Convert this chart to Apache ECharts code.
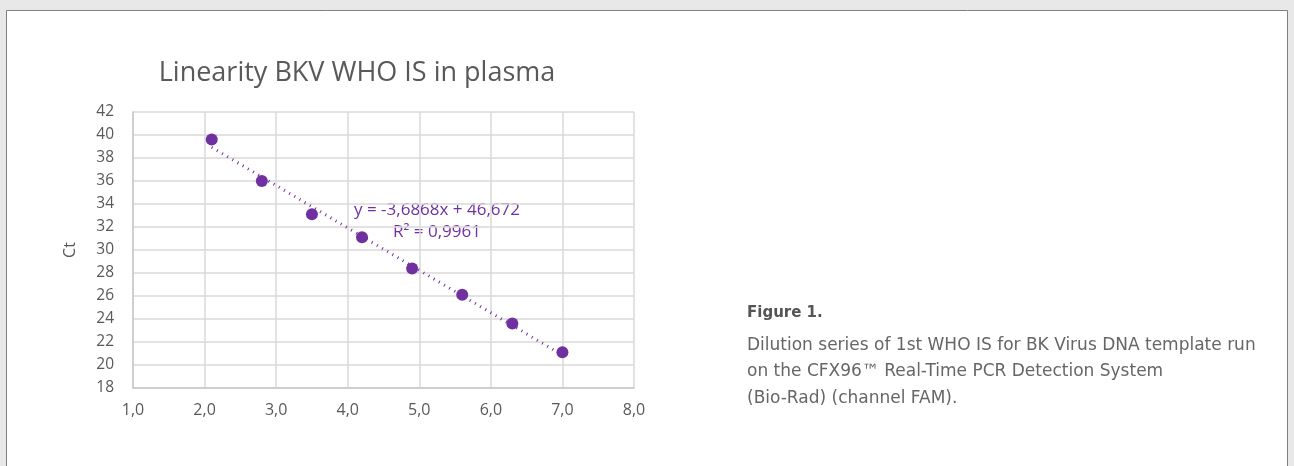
<!DOCTYPE html>
<html lang="en">

<head>
  <meta charset="UTF-8">
  <title>Linearity BKV WHO IS in plasma</title>
  <script src="https://cdn.jsdelivr.net/npm/echarts@6.0.0/dist/echarts.min.js"></script>
  <style>
    html, body { margin: 0; padding: 0; background: #e8e8e8; }
    #main { width: 1294px; height: 466px; }
  </style>
</head>

<body>
  <div id="main"></div>
  <script type="text/javascript">
    // log concentration vs Ct
    var logConc = [2.1, 2.8, 3.5, 4.2, 4.9, 5.6, 6.3, 7.0];
    var ctValues = [39.6, 36.0, 33.1, 31.1, 28.4, 26.1, 23.6, 21.1];

    // excel trendline end points
    var trendX = [2.1, 7.0];
    var trendY = [38.93, 20.86];

    var equationLines = ['y = -3,6868x + 46,672', 'R² = 0,9961'];
    var captionTitle = 'Figure 1.';
    var captionLines = [
      'Dilution series of 1st WHO IS for BK Virus DNA template run',
      'on the CFX96™ Real-Time PCR Detection System',
      '(Bio-Rad) (channel FAM).'
    ];

    var purple = '#7030a0';
    var gray = '#595959';

    var myChart = echarts.init(document.getElementById('main'));

    var option = {
      backgroundColor: '#e8e8e8',
      textStyle: { fontFamily: 'Open Sans' },
      title: {
        text: 'Linearity BKV WHO IS in plasma',
        left: 352,
        top: 55,
        textAlign: 'center',
        textStyle: { color: gray, fontSize: 27, fontWeight: 'normal', fontFamily: 'Open Sans' }
      },
      grid: { left: 133, right: 660, top: 112, bottom: 78 },
      xAxis: {
        type: 'value',
        min: 1,
        max: 8,
        interval: 1,
        axisLine: { lineStyle: { color: '#c8c8c8', width: 1.5 } },
        axisTick: { show: false },
        splitLine: { lineStyle: { color: '#d9d9d9', width: 1.5 } },
        axisLabel: {
          color: gray, fontSize: 16, margin: 14,
          formatter: function (v) { return v.toFixed(1).replace('.', ','); }
        }
      },
      yAxis: {
        type: 'value',
        min: 18,
        max: 42,
        interval: 2,
        name: 'Ct',
        nameLocation: 'middle',
        nameGap: 55,
        nameTextStyle: { color: gray, fontSize: 16 },
        axisLine: { show: true, lineStyle: { color: '#c8c8c8', width: 1.5 } },
        axisTick: { show: false },
        splitLine: { lineStyle: { color: '#d9d9d9', width: 1.5 } },
        axisLabel: { color: gray, fontSize: 15.5, margin: 19 }
      },
      series: [{
        name: 'Trend',
        type: 'line',
        data: trendX.map(function (x, i) { return [x, trendY[i]]; }),
        symbol: 'none',
        lineStyle: { color: purple, width: 3, type: [1, 5] },
        silent: true,
        z: 2
      }, {
        name: 'Ct',
        type: 'scatter',
        data: logConc.map(function (x, i) { return [x, ctValues[i]]; }),
        symbolSize: 12,
        itemStyle: { color: purple, opacity: 1 },
        z: 3
      }],
      graphic: [{
        type: 'rect',
        shape: { x: 6.5, y: 10.5, width: 1281, height: 470 },
        style: { fill: '#ffffff', stroke: '#7f7f7f', lineWidth: 1 },
        z: -10
      }, {
        type: 'text',
        x: 437,
        y: 221,
        style: {
          text: equationLines.join('\n'),
          align: 'center',
          verticalAlign: 'middle',
          lineHeight: 22,
          fill: purple,
          font: '17px "Open Sans"'
        }
      }, {
        type: 'text',
        x: 747,
        y: 313,
        style: {
          text: captionTitle,
          verticalAlign: 'middle',
          fill: '#555555',
          font: 'bold 15px "DejaVu Sans"'
        }
      }, {
        type: 'text',
        x: 747,
        y: 332,
        style: {
          text: captionLines.join('\n'),
          verticalAlign: 'top',
          lineHeight: 26.5,
          fill: '#666666',
          font: '17px "DejaVu Sans"'
        }
      }]
    };

    myChart.setOption(option);
  </script>
</body>

</html>
